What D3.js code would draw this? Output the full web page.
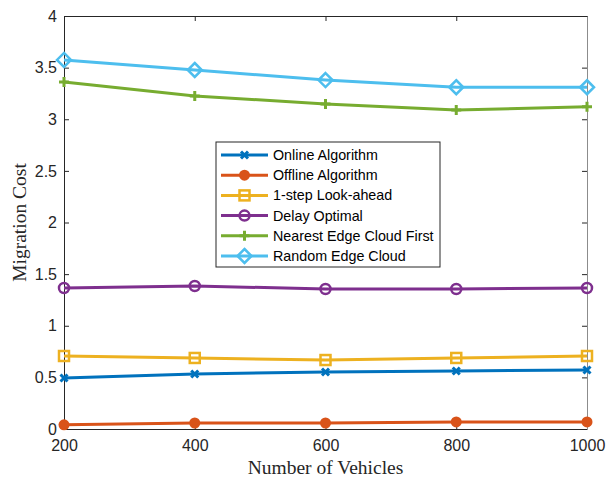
<!DOCTYPE html>
<html lang="en">
<head>
<meta charset="UTF-8">
<title>Migration Cost vs Number of Vehicles</title>
<script src="https://cdnjs.cloudflare.com/ajax/libs/d3/7.8.5/d3.min.js"></script>
<style>
  body { margin: 0; background: #fff; }
  svg { display: block; }
</style>
</head>
<body>
<div id="chart"></div>
<script>
const vehicles = [200, 400, 600, 800, 1000];
const xTicks = [200, 400, 600, 800, 1000];
const yTicks = [0, 0.5, 1, 1.5, 2, 2.5, 3, 3.5, 4];

const online    = [0.494, 0.533, 0.552, 0.562, 0.571];
const offline   = [0.040, 0.058, 0.058, 0.068, 0.068];
const lookahead = [0.707, 0.688, 0.668, 0.688, 0.707];
const delayOpt  = [1.366, 1.385, 1.356, 1.356, 1.366];
const nearest   = [3.360, 3.225, 3.148, 3.090, 3.120];
const randomEC  = [3.574, 3.477, 3.380, 3.310, 3.310];

const series = [
  {name: "Online Algorithm", values: online, color: "#0072BD", marker: "x"},
  {name: "Offline Algorithm", values: offline, color: "#D95319", marker: "dot"},
  {name: "1-step Look-ahead", values: lookahead, color: "#EDB120", marker: "square"},
  {name: "Delay Optimal", values: delayOpt, color: "#7E2F8E", marker: "circle"},
  {name: "Nearest Edge Cloud First", values: nearest, color: "#77AC30", marker: "plus"},
  {name: "Random Edge Cloud", values: randomEC, color: "#4DBEEE", marker: "diamond"}
];

const W = 611, H = 479;
const m = {left: 64, right: 24, top: 16, bottom: 50};

const svg = d3.select("#chart").append("svg")
  .attr("width", W).attr("height", H);

const x = d3.scaleLinear().domain([200, 1000]).range([m.left, W - m.right]);
const y = d3.scaleLinear().domain([0, 4]).range([H - m.bottom, m.top]);

const axisColor = "#262626";
const tickFont = "Liberation Sans, Arial, sans-serif";

function styleAxis(color) {
  return g => {
    g.selectAll("path").attr("stroke", color).attr("stroke-width", 1);
    g.selectAll("line").attr("stroke", axisColor);
    g.selectAll("text").attr("fill", axisColor)
      .style("font-family", tickFont).style("font-size", "16px");
  };
}

// axes with inward ticks, full box
svg.append("g").attr("transform", `translate(0,${y(0)})`)
  .call(d3.axisBottom(x).tickValues(xTicks).tickSize(-5).tickPadding(11).tickSizeOuter(0)
    .tickFormat(d3.format("d")))
  .call(styleAxis(axisColor));
svg.append("g").attr("transform", `translate(0,${y(4)})`)
  .call(d3.axisTop(x).tickValues(xTicks).tickSize(-5).tickFormat("").tickSizeOuter(0))
  .call(styleAxis(axisColor));
svg.append("g").attr("transform", `translate(${x(200)},0)`)
  .call(d3.axisLeft(y).tickValues(yTicks).tickSize(-5).tickPadding(7).tickSizeOuter(0)
    .tickFormat(d3.format("~g")))
  .call(styleAxis(axisColor));
svg.append("g").attr("transform", `translate(${x(1000)},0)`)
  .call(d3.axisRight(y).tickValues(yTicks).tickSize(-5).tickFormat("").tickSizeOuter(0))
  .call(styleAxis("#8c8c8c"));

// axis labels
svg.append("text")
  .attr("x", (x(200) + x(1000)) / 2).attr("y", H - 5)
  .attr("text-anchor", "middle")
  .style("font-family", "Liberation Serif, Times New Roman, serif")
  .style("font-size", "19.5px").attr("fill", axisColor)
  .text("Number of Vehicles");
svg.append("text")
  .attr("transform", `translate(26,${(y(0) + y(4)) / 2}) rotate(-90)`)
  .attr("text-anchor", "middle")
  .style("font-family", "Liberation Serif, Times New Roman, serif")
  .style("font-size", "19.5px").attr("fill", axisColor)
  .text("Migration Cost");

function drawMarker(g, type, color) {
  if (type === "x") {
    g.append("path").attr("d", "M-3.5,-3.5L3.5,3.5M-3.5,3.5L3.5,-3.5")
      .attr("stroke", color).attr("stroke-width", 3).attr("fill", "none");
  } else if (type === "dot") {
    g.append("circle").attr("r", 5.5).attr("fill", color);
  } else if (type === "square") {
    g.append("rect").attr("x", -5).attr("y", -5).attr("width", 10).attr("height", 10)
      .attr("fill", "none").attr("stroke", color).attr("stroke-width", 2.5);
  } else if (type === "circle") {
    g.append("circle").attr("r", 5)
      .attr("fill", "none").attr("stroke", color).attr("stroke-width", 2.5);
  } else if (type === "plus") {
    g.append("path").attr("d", "M-5,0L5,0M0,-5L0,5")
      .attr("stroke", color).attr("stroke-width", 3).attr("fill", "none");
  } else if (type === "diamond") {
    g.append("path").attr("d", "M0,-7L7,0L0,7L-7,0Z")
      .attr("stroke", color).attr("stroke-width", 2.5).attr("fill", "none");
  }
}

const line = d3.line().x(d => x(d[0])).y(d => y(d[1]));

series.forEach(s => {
  const pts = vehicles.map((v, i) => [v, s.values[i]]);
  svg.append("path").datum(pts)
    .attr("d", line)
    .attr("fill", "none").attr("stroke", s.color).attr("stroke-width", 3);
  pts.forEach(p => {
    const g = svg.append("g").attr("transform", `translate(${x(p[0])},${y(p[1])})`);
    drawMarker(g, s.marker, s.color);
  });
});

// legend
const lg = svg.append("g").attr("transform", "translate(216,142)");
lg.append("rect").attr("width", 224).attr("height", 125)
  .attr("fill", "#fff").attr("stroke", axisColor).attr("stroke-width", 1);
series.forEach((s, i) => {
  const yy = 13 + i * 20.2;
  lg.append("line").attr("x1", 5).attr("x2", 52).attr("y1", yy).attr("y2", yy)
    .attr("stroke", s.color).attr("stroke-width", 3);
  const g = lg.append("g").attr("transform", `translate(28.5,${yy})`);
  drawMarker(g, s.marker, s.color);
  lg.append("text").attr("x", 57).attr("y", yy).attr("dy", "0.35em")
    .style("font-family", tickFont).style("font-size", "14.3px")
    .attr("fill", "#000").text(s.name);
});
</script>
</body>
</html>
